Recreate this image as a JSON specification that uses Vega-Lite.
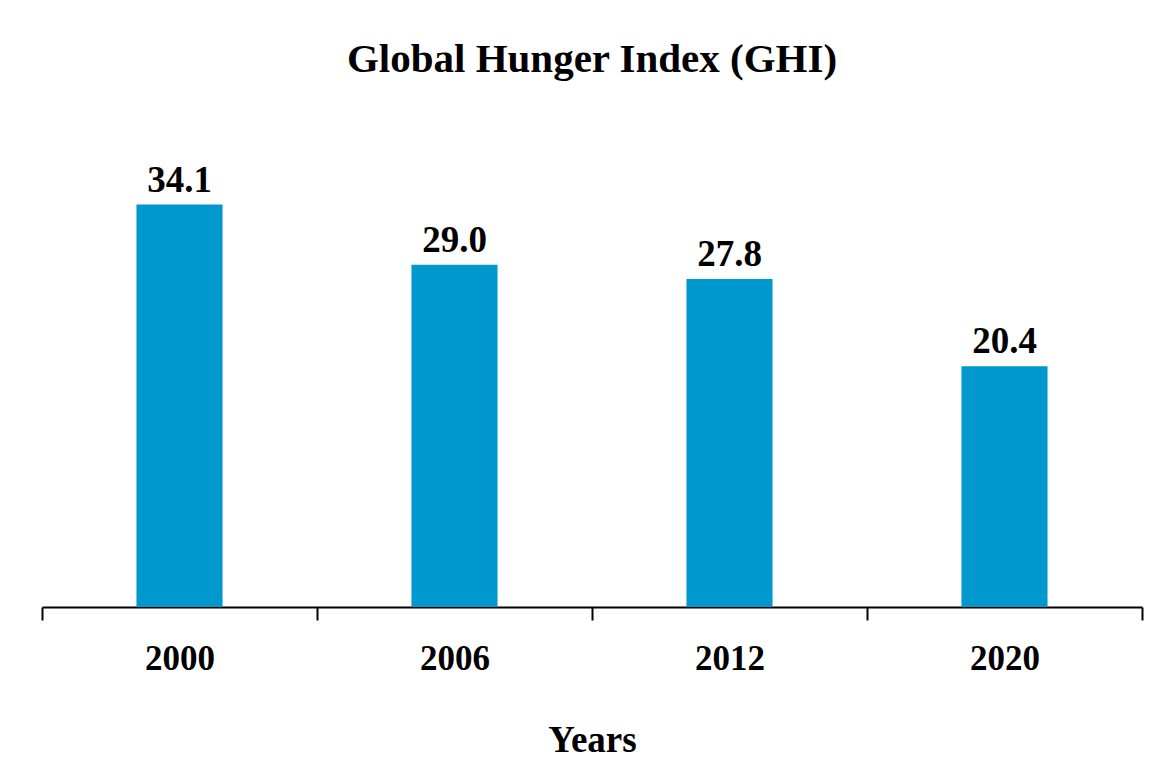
{
  "$schema": "https://vega.github.io/schema/vega-lite/v6.json",
  "autosize": {"type": "none"},
  "width": 1100,
  "height": 472,
  "padding": {"left": 42, "top": 135, "right": 25, "bottom": 162},
  "background": "white",
  "title": {
    "text": "Global Hunger Index (GHI)",
    "font": "Liberation Serif",
    "fontSize": 41,
    "fontWeight": "bold",
    "color": "#000000",
    "anchor": "middle",
    "baseline": "alphabetic",
    "offset": 22
  },
  "data": {
    "values": [
      {"year": "2000", "ghi": 34.1, "label": "34.1"},
      {"year": "2006", "ghi": 29.0, "label": "29.0"},
      {"year": "2012", "ghi": 27.8, "label": "27.8"},
      {"year": "2020", "ghi": 20.4, "label": "20.4"}
    ]
  },
  "config": {"view": {"stroke": null}},
  "encoding": {
    "x": {
      "field": "year",
      "type": "nominal",
      "sort": null,
      "scale": {"paddingInner": 0, "paddingOuter": 0},
      "axis": {
        "title": "Years",
        "titleFont": "Liberation Serif",
        "titleFontSize": 37,
        "titleFontWeight": "bold",
        "titleColor": "#000000",
        "titlePadding": 46,
        "labelFont": "Liberation Serif",
        "labelFontSize": 35,
        "labelFontWeight": "bold",
        "labelColor": "#000000",
        "labelAngle": 0,
        "labelBaseline": "alphabetic",
        "labelPadding": 49,
        "tickBand": "extent",
        "tickSize": 13,
        "tickWidth": 2,
        "tickColor": "#000000",
        "domainColor": "#000000",
        "domainWidth": 2,
        "grid": false
      }
    },
    "y": {
      "field": "ghi",
      "type": "quantitative",
      "scale": {"domain": [0, 40], "nice": false},
      "axis": null
    }
  },
  "layer": [
    {"mark": {"type": "bar", "color": "#0098CE", "width": {"band": 0.313}}},
    {
      "mark": {
        "type": "text",
        "font": "Liberation Serif",
        "fontSize": 37,
        "fontWeight": "bold",
        "color": "#000000",
        "baseline": "alphabetic",
        "dy": -13
      },
      "encoding": {"text": {"field": "label"}}
    }
  ]
}
